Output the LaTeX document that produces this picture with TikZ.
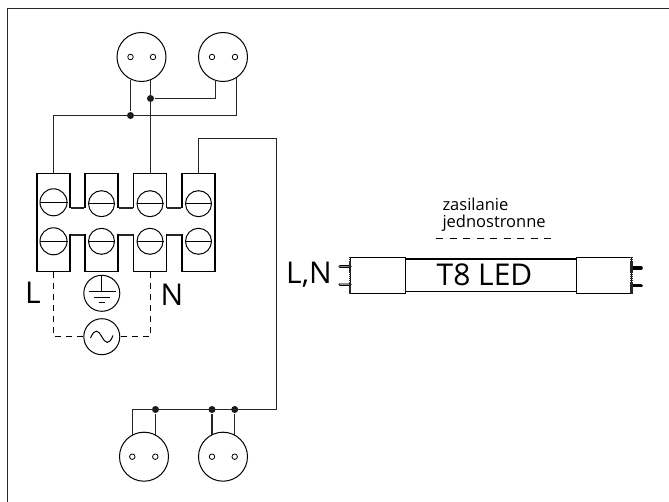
\documentclass[tikz,border=0pt]{standalone}
\usepackage{fontspec}
\setmainfont{Open Sans}
\begin{document}
\begin{tikzpicture}[x=1pt,y=-1pt,line width=1pt,
      wire/.style={line width=1.1pt,color=black!85},
      socket/.style={draw,circle,line width=1pt,minimum size=49pt,inner sep=0pt},
      pin/.style={draw,circle,line width=.8pt,minimum size=5.5pt,inner sep=0pt},
      joint/.style={fill=black!90,circle,minimum size=7pt,inner sep=0pt},
      block/.style={draw,rectangle,line width=1.1pt,minimum width=33pt,minimum height=97.5pt,inner sep=0pt},
      screw/.style={draw,circle,line width=1pt,minimum size=26pt,inner sep=0pt},
      symbol/.style={draw,circle,line width=1pt,minimum size=36pt,inner sep=0pt},
      dashwire/.style={line width=.9pt,dash pattern=on 6pt off 5pt},
      bigtext/.style={font=\fontsize{30}{30}\selectfont},
      smalltext/.style={anchor=west,inner sep=0pt,font=\fontsize{16.5}{16.5}\selectfont},
      tubecap/.style={draw,rectangle,line width=1.1pt,fill=white,minimum width=55pt,minimum height=36pt,inner sep=0pt}]
    \useasboundingbox (0,0) rectangle (669,502);
    % frame
    \coordinate (F0) at (7.5,502);
    \coordinate (F1) at (7.5,9);
    \coordinate (F2) at (669,9);
    \draw[line width=1pt,color=black!85] (F0)--(F1)--(F2);
    % sockets
    \node[socket] at (141.5,57) (S1) {};
    \node[socket] at (223,57) (S2) {};
    \node[socket] at (144,456.7) (S3) {};
    \node[socket] at (223,456.7) (S4) {};
    \foreach \name/\xa/\xb/\yy in {S1/130.5/153/57,S2/212/235/57,S3/132.3/155.3/456.7,S4/212/234.7/456.7}{
      \node[pin] at (\xa,\yy) (\name a) {};
      \node[pin] at (\xb,\yy) (\name b) {};
    }
    % terminal blocks
    \foreach \name/\xx in {A/53.5,B/101.5,C/150,D/198.5}{
      \node[block] at (\xx,222.7) (\name) {};
    }
    \fill[white] (69,208.5) rectangle (86,234.5);
    \fill[white] (117,208.5) rectangle (134.5,234.5);
    \fill[white] (165.5,208.5) rectangle (183,234.5);
    \draw[wire] (A.north east |- 0,208)--(B.north west |- 0,208);
    \draw[wire] (B.north east |- 0,208)--(C.north west |- 0,208);
    \draw[wire] (C.north east |- 0,208)--(D.north west |- 0,208);
    \draw[wire] (A.north east |- 0,235)--(B.north west |- 0,235);
    \draw[wire] (B.north east |- 0,235)--(C.north west |- 0,235);
    \draw[wire] (C.north east |- 0,235)--(D.north west |- 0,235);
    \foreach \name/\yy/\size in {A/202.3/27,B/203.7/26,C/203.7/26,D/203.7/26}{
      \node[screw,minimum size=\size pt] at (\name |- 0,\yy) (\name1) {};
      \draw (\name1.west)--(\name1.east);
    }
    \foreach \name/\size in {A/27,B/26,C/26,D/26}{
      \node[screw,minimum size=\size pt] at (\name |- 0,241.3) (\name2) {};
      \draw (\name2.west)--(\name2.east);
    }
    % ground and supply
    \node[symbol] at (101.8,293.3) (PE) {};
    \node[symbol] at (101.8,336.7) (AC) {};
    \coordinate (PE0) at (101.8,291.7);
    \draw (PE.north)--(PE0);
    \draw (88.5,291.7)--(116,291.7);
    \draw (93.5,297.2)--(110,297.2);
    \draw (98.7,302.7)--(105,302.7);
    \draw (90.5,338) .. controls (95,328) and (98,330) .. (101.8,336.7) .. controls (105.5,343.5) and (109,345.5) .. (113,335.5);
    \coordinate (L0) at (A |- AC);
    \coordinate (N0) at (C |- AC);
    \draw[dashwire] (A.south)--(L0)--(AC.west);
    \draw[dashwire] (C.south)--(N0)--(AC.east);
    \node[bigtext] at (33,293) (TL) {L};
    \node[bigtext] at (172,295) (TN) {N};
    % wires top
    \node[joint] at (130.5,115.5) (J1) {};
    \node[joint] at (150.5,98.5) (J2) {};
    \coordinate (S1c) at (150.5,80.5);
    \coordinate (S1d) at (130.5,80.5);
    \coordinate (S2c) at (215.5,80);
    \coordinate (S2d) at (236.5,78);
    \draw[wire] (S1d)--(J1);
    \draw[wire] (S1c)--(C.north -| S1c);
    \draw[wire] (J2)--(J2 -| S2c)--(S2c);
    \draw[wire] (S2d)--(S2d |- J1)--(A |- J1)--(A.north);
    % wires bottom
    \coordinate (T1) at (D |- 0,138.5);
    \coordinate (T2) at (276.5,138.5);
    \coordinate (T3) at (276.5,409.5);
    \coordinate (T4) at (132.5,409.5);
    \coordinate (T5) at (132.5,435);
    \node[joint] at (155.5,409.5) (J3) {};
    \node[joint] at (212,409.5) (J4) {};
    \node[joint] at (234.7,409.5) (J5) {};
    \draw[wire] (D.north)--(T1)--(T2)--(T3)--(T4)--(T5);
    \draw[wire] (J3)--(J3 |- T5);
    \draw[wire] (J4)--(J4 |- T5);
    \draw[wire] (J5)--(J5 |- T5);
    % tube
    \node[draw,rectangle,line width=1.1pt,minimum width=172pt,minimum height=32.5pt,inner sep=0pt] at (491,275.3) (TUBE) {};
    \node[tubecap] at (378.2,275.3) (CAP1) {};
    \node[tubecap] at (603.6,275.3) (CAP2) {};
    \node[bigtext] at (484.5,275) (LED) {T8 LED};
    \node[bigtext] at (309,275) (LN) {L,N};
    \node[smalltext] at (442,204) (TA) {zasilanie};
    \node[smalltext] at (442,223) (TB) {jednostronne};
    \coordinate (D0) at (436,238.3);
    \coordinate (D1) at (555,238.3);
    \draw[dashwire,dash pattern=on 7pt off 6.5pt] (D0)--(D1);
    \coordinate (P1) at (340,266.7);
    \coordinate (P2) at (340,284.3);
    \coordinate (P3) at (641,268);
    \coordinate (P4) at (641,285.7);
    \draw[line width=3.2pt,line cap=round] (P1)--(P1 -| CAP1.west);
    \draw[line width=1.6pt,color=black!45,line cap=round] (P1)--(P1 -| CAP1.west);
    \draw[line width=3.2pt,line cap=round] (P2)--(P2 -| CAP1.west);
    \draw[line width=1.6pt,color=black!45,line cap=round] (P2)--(P2 -| CAP1.west);
    \draw[line width=3.6pt,line cap=round] (P3)--(P3 -| CAP2.east);
    \draw[line width=3.6pt,line cap=round] (P4)--(P4 -| CAP2.east);
    % ribbed ends of the caps
    \draw[line width=2.6pt,dash pattern=on 1.6pt off .5pt,color=black!85] (CAP1.north west)--(CAP1.south west);
    \draw[line width=2.6pt,dash pattern=on 1.6pt off .5pt,color=black!85] (CAP2.north east)--(CAP2.south east);
  \end{tikzpicture}
\end{document}
